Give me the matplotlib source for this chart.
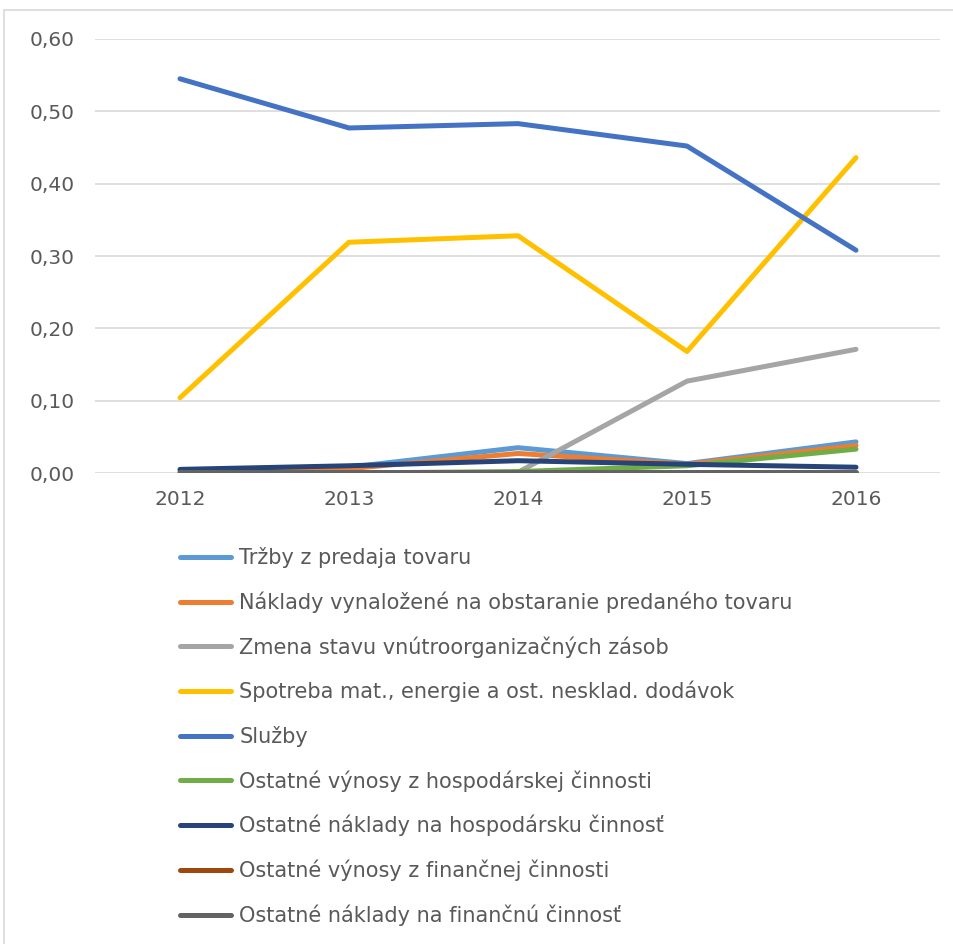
import matplotlib
matplotlib.use("Agg")
import matplotlib.pyplot as plt
from matplotlib.patches import Rectangle

years = [2012, 2013, 2014, 2015, 2016]
labels = [
    "Tržby z predaja tovaru",
    "Náklady vynaložené na obstaranie predaného tovaru",
    "Zmena stavu vnútroorganizačných zásob",
    "Spotreba mat., energie a ost. nesklad. dodávok",
    "Služby",
    "Ostatné výnosy z hospodárskej činnosti",
    "Ostatné náklady na hospodársku činnosť",
    "Ostatné výnosy z finančnej činnosti",
    "Ostatné náklady na finančnú činnosť",
]
trzby = [0.002, 0.008, 0.035, 0.013, 0.043]
naklady_tovar = [0.000, 0.006, 0.027, 0.012, 0.038]
zmena_zasob = [0.000, 0.000, 0.001, 0.127, 0.171]
spotreba = [0.104, 0.319, 0.328, 0.168, 0.436]
sluzby = [0.545, 0.477, 0.483, 0.452, 0.308]
vynosy_hosp = [0.000, 0.000, 0.002, 0.010, 0.033]
naklady_hosp = [0.005, 0.010, 0.017, 0.012, 0.008]
vynosy_fin = [0.000, 0.000, 0.000, 0.000, 0.000]
naklady_fin = [0.002, 0.002, 0.002, 0.002, 0.002]

series = [trzby, naklady_tovar, zmena_zasob, spotreba, sluzby,
          vynosy_hosp, naklady_hosp, vynosy_fin, naklady_fin]
colors = ["#5B9BD5", "#ED7D31", "#A5A5A5", "#FFC000", "#4472C4",
          "#70AD47", "#264478", "#9E480E", "#636363"]

plt.rcParams['font.family'] = ['DejaVu Sans']
fig = plt.figure(figsize=(9.54, 9.44), dpi=100)
ax = fig.add_axes([95.5/954, 1-473/944, 845/954, (473-39)/944])

for vals, c, lab in zip(series, colors, labels):
    ax.plot(years, vals, color=c, lw=3.6, label=lab, solid_capstyle='round')

ticks_y = [0, 0.1, 0.2, 0.3, 0.4, 0.5, 0.6]
ax.set_xlim(2011.5, 2016.5)
ax.set_ylim(0, 0.6)
ax.set_yticks(ticks_y)
ax.set_yticklabels([f"{v:.2f}".replace('.', ',') for v in ticks_y])
ax.set_xticks(years)
ax.set_xticklabels([str(y) for y in years])
ax.tick_params(length=0, labelsize=14.5, labelcolor="#595959")
ax.tick_params(axis='y', pad=15)
ax.tick_params(axis='x', pad=12)
ax.grid(axis='y', color="#D9D9D9", lw=1.2)
ax.set_axisbelow(True)
for s in ax.spines.values():
    s.set_visible(False)

fig.legend(loc='upper left', bbox_to_anchor=(180/954, 1-547/944), frameon=False,
           fontsize=15, labelcolor="#595959", handlelength=2.45, handletextpad=0.4,
           labelspacing=1.12, borderaxespad=0, borderpad=0)

fig.patches.append(Rectangle((4/954, -0.1), 1.2, 1.1-10/944, transform=fig.transFigure,
                             fill=False, edgecolor="#D9D9D9", lw=1.2))
fig.savefig("out.png", dpi=100)
